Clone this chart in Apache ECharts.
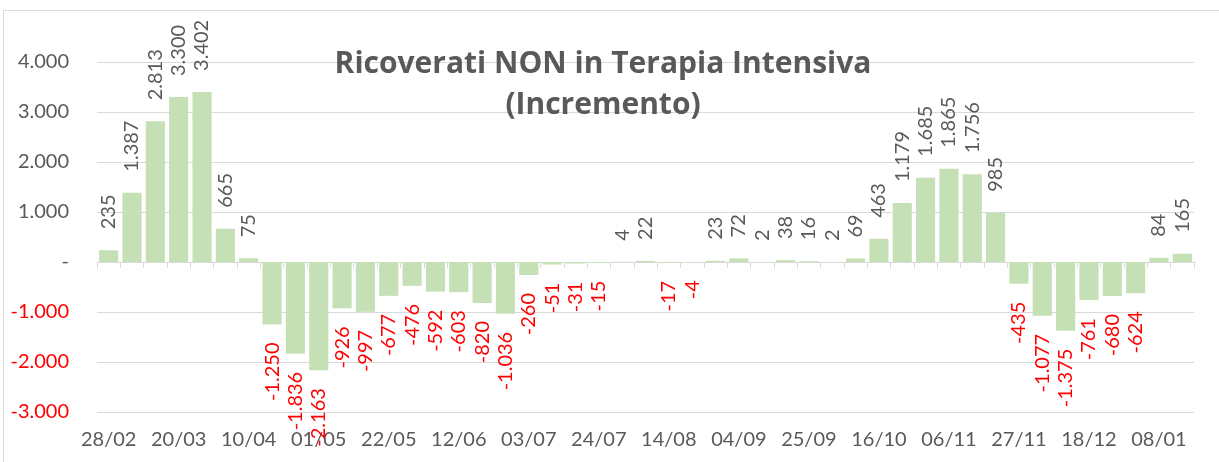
<!DOCTYPE html>
<html>
<head>
<meta charset="utf-8">
<script src="https://cdn.jsdelivr.net/npm/echarts@6/dist/echarts.min.js"></script>
<style>
  html, body { margin: 0; padding: 0; background: #fff; }
  #chart { width: 1219px; height: 462px; }
</style>
</head>
<body>
<div id="chart"></div>
<script>
// weekly dates (28/02 -> 15/01)
const categories = [
  '28/02', '06/03', '13/03', '20/03', '27/03', '03/04', '10/04', '17/04', '24/04', '01/05',
  '08/05', '15/05', '22/05', '29/05', '05/06', '12/06', '19/06', '26/06', '03/07', '10/07',
  '17/07', '24/07', '31/07', '07/08', '14/08', '21/08', '28/08', '04/09', '11/09', '18/09',
  '25/09', '02/10', '09/10', '16/10', '23/10', '30/10', '06/11', '13/11', '20/11', '27/11',
  '04/12', '11/12', '18/12', '25/12', '01/01', '08/01', '15/01'
];

const increments = [
  235, 1387, 2813, 3300, 3402, 665, 75, -1250, -1836, -2163,
  -926, -997, -677, -476, -592, -603, -820, -1036, -260, -51,
  -31, -15, 4, 22, -17, -4, 23, 72, 2, 38,
  16, 2, 69, 463, 1179, 1685, 1865, 1756, 985, -435,
  -1077, -1375, -761, -680, -624, 84, 165
];

const yMin = -3000;
const yMax = 4000;
const yStep = 1000;

const FONT = 'Lato';
const GREY = '#595959';
const RED = '#FF0000';

// italian thousands separator, zero as "-"
const fmt = (v) => {
  if (v === 0) return '-';
  const s = Math.abs(v).toString().replace(/\B(?=(\d{3})+(?!\d))/g, '.');
  return (v < 0 ? '-' : '') + s;
};

const barData = increments.map((v) => {
  if (v < 0) {
    return {
      value: v,
      label: { position: 'bottom', align: 'right', color: RED, distance: 18 },
    };
  }
  return { value: v };
});

const chart = echarts.init(document.getElementById('chart'));

const option = {
  animation: false,
  backgroundColor: '#fff',
  textStyle: { fontFamily: FONT },
  title: {
    text: 'Ricoverati NON in Terapia Intensiva\n(Incremento)',
    left: 598,
    textAlign: 'center',
    top: 39,
    textStyle: {
      fontFamily: 'Open Sans',
      fontSize: 30,
      fontWeight: 'bold',
      color: GREY,
      lineHeight: 41,
    },
  },
  graphic: [
    {
      type: 'rect',
      shape: { x: 3.5, y: 10.5, width: 1300, height: 600 },
      style: { fill: null, stroke: '#D9D9D9', lineWidth: 1 },
      silent: true,
    },
  ],
  grid: { left: 97, right: 25, top: 62, bottom: 50 },
  xAxis: [
    {
      type: 'category',
      data: categories,
      axisLine: { onZero: true, lineStyle: { color: '#D9D9D9', width: 1 } },
      axisTick: { show: true, interval: 0, length: 6, lineStyle: { color: '#D9D9D9' } },
      axisLabel: { show: false },
      splitLine: { show: false },
    },
    {
      type: 'category',
      data: categories,
      position: 'bottom',
      axisLine: { show: false, onZero: false },
      axisTick: { show: false },
      axisLabel: {
        interval: 2,
        color: GREY,
        fontFamily: FONT,
        fontSize: 20,
        margin: 18,
      },
    },
  ],
  yAxis: {
    type: 'value',
    min: yMin,
    max: yMax,
    interval: yStep,
    axisLine: { show: false },
    axisTick: { show: false },
    splitLine: { lineStyle: { color: '#D9D9D9', width: 1 } },
    axisLabel: {
      margin: 28,
      fontFamily: FONT,
      fontSize: 20,
      formatter: (v) => (v < 0 ? '{n|' + fmt(v) + '}' : '{p|' + fmt(v) + '}'),
      rich: {
        p: { color: GREY, fontFamily: FONT, fontSize: 20 },
        n: { color: RED, fontFamily: FONT, fontSize: 20 },
      },
    },
  },
  series: [
    {
      type: 'bar',
      xAxisIndex: 0,
      data: barData,
      barCategoryGap: '18%',
      itemStyle: { color: '#C5E0B4' },
      label: {
        show: true,
        position: 'top',
        rotate: 90,
        align: 'left',
        verticalAlign: 'middle',
        distance: 21,
        color: GREY,
        fontFamily: FONT,
        fontSize: 20,
        formatter: (p) => fmt(p.value),
      },
    },
  ],
};

chart.setOption(option);
window.addEventListener('resize', () => chart.resize());
</script>
</body>
</html>
